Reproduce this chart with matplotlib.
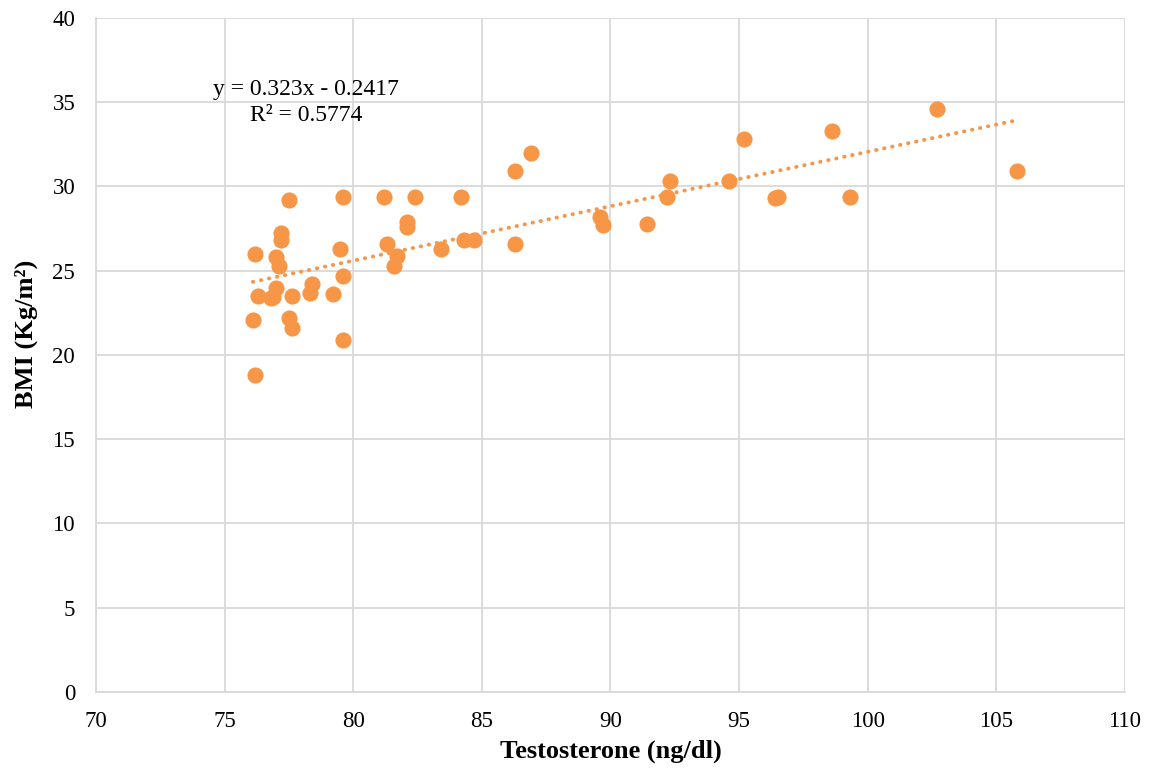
import numpy as np
import matplotlib
matplotlib.use("Agg")
import matplotlib.pyplot as plt

plt.rcParams['font.family'] = ['Liberation Serif', 'DejaVu Serif']

# values
testosterone = [77.5, 79.6, 81.2, 82.4, 84.2, 77.2, 77.2, 76.2, 77.0, 77.1,
                79.5, 79.6, 81.3, 82.1, 82.1, 81.7, 81.6, 83.4, 84.3, 84.7,
                77.0, 76.3, 76.8, 76.9, 77.6, 78.4, 78.3, 79.2, 76.1, 77.5,
                77.6, 79.6, 76.2, 86.3, 86.9, 86.3, 89.6, 89.7, 91.4, 92.3,
                92.2, 95.2, 94.6, 96.4, 96.5, 98.6, 99.3, 102.7, 105.8]
bmi = [29.2, 29.4, 29.4, 29.4, 29.4, 27.25, 26.8, 26.0, 25.8, 25.3,
       26.3, 24.7, 26.6, 27.9, 27.6, 25.9, 25.3, 26.3, 26.8, 26.8,
       24.0, 23.5, 23.4, 23.45, 23.5, 24.2, 23.7, 23.6, 22.1, 22.2,
       21.6, 20.9, 18.8, 30.9, 32.0, 26.6, 28.2, 27.7, 27.8, 30.3,
       29.4, 32.8, 30.3, 29.3, 29.4, 33.3, 29.4, 34.6, 30.9]

slope = 0.323
intercept = -0.2417
r2 = 0.5774

x_ticks = [70, 75, 80, 85, 90, 95, 100, 105, 110]
y_ticks = [0, 5, 10, 15, 20, 25, 30, 35, 40]

orange = '#F79646'

fig = plt.figure(figsize=(11.51, 7.71), dpi=100)
ax = fig.add_axes([0.0834, 0.1025, 0.894, 0.8742])

ax.scatter(testosterone, bmi, s=135, color=orange, zorder=3, linewidths=0)

# linear trendline over the data range
xs = np.array([min(testosterone), max(testosterone)])
ax.plot(xs, slope * xs + intercept, color=orange, linestyle=(0, (0.1, 2.0)),
        linewidth=2.8, dash_capstyle='round', zorder=2)

ax.set_xlim(70, 110)
ax.set_ylim(0, 40)
ax.set_xticks(x_ticks)
ax.set_yticks(y_ticks)
ax.grid(True, color='#d9d9d9', linewidth=1.3)
ax.set_axisbelow(True)
for s in ['top', 'right']:
    ax.spines[s].set_visible(False)
for s in ['left', 'bottom']:
    ax.spines[s].set_color('#d9d9d9')
    ax.spines[s].set_linewidth(1.3)
ax.tick_params(length=0, labelsize=16.5)
ax.tick_params(axis='x', pad=14)
ax.tick_params(axis='y', pad=15)

ax.set_xlabel('Testosterone (ng/dl)', fontsize=19, fontweight='bold', labelpad=5)
ax.set_ylabel('BMI (Kg/m²)', fontsize=19, fontweight='bold', labelpad=10, y=0.531)

ax.text(0.204, 0.875, 'y = %.3fx - %.4f\nR² = %.4f' % (slope, -intercept, r2),
        transform=ax.transAxes, fontsize=17, ha='center', va='center',
        linespacing=1.3)

fig.savefig('out.png', dpi=100)
